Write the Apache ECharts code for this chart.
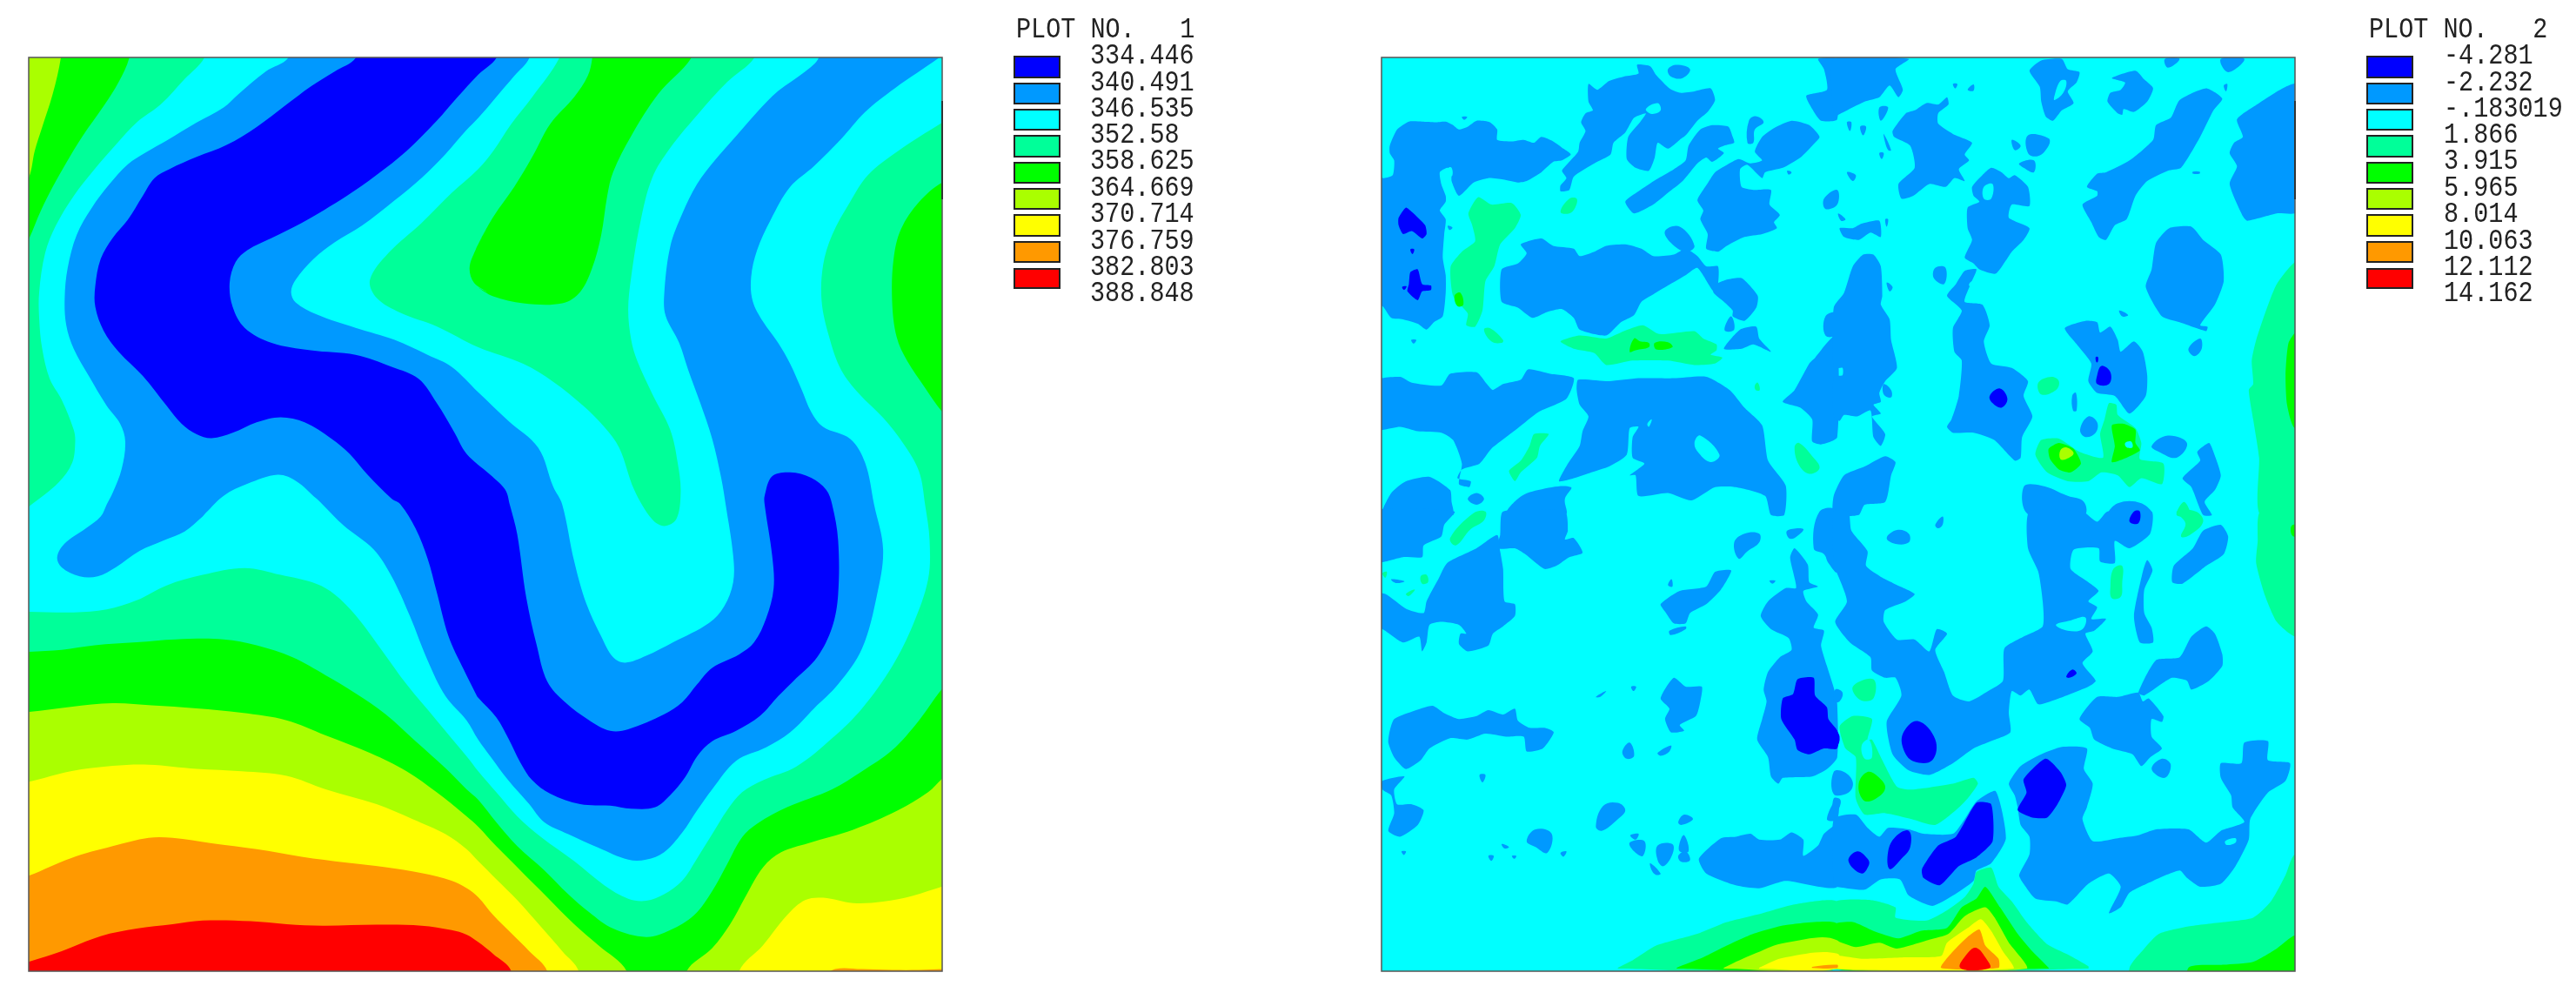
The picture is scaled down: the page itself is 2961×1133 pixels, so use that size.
<!DOCTYPE html>
<html>
<head>
<meta charset="utf-8">
<script src="https://cdn.jsdelivr.net/npm/echarts@6/dist/echarts.min.js"></script>
<style>
  html, body { margin: 0; padding: 0; background: #fff; }
  #chart { width: 2961px; height: 1133px; }
</style>
</head>
<body>
<div id="chart"></div>
<script>
// legend
const colors = ['#0000ff', '#0099ff', '#00ffff', '#00ff99', '#00ff00', '#aaff00', '#ffff00', '#ff9900', '#ff0000'];
const valuesPlot1 = ['334.446', '340.491', '346.535', '352.58', '358.625', '364.669', '370.714', '376.759', '382.803', '388.848'];
const valuesPlot2 = ['-4.281', '-2.232', '-.183019', '1.866', '3.915', '5.965', '8.014', '10.063', '12.112', '14.162'];
const BLUE = 0, AZURE = 1, CYAN = 2, MINT = 3, GREEN = 4, LIME = 5, YELLOW = 6, ORANGE = 7, RED = 8;

// plot 1 contour bands, [col, row, points] pieces
const p1GreenCorner = [[0,0,[[0,0],[375,0],[375,50],[340,130],[290,210],[220,310],[165,400],[120,480],[80,560],[42,650],[0,730]]]];
const p1LimeCorner = [[0,0,[[0,0],[147,0],[147,50],[120,170],[85,280],[60,360],[42,445],[0,520]]]];
const p1GreenTop = [
  [1,0,[[710,0],[710,50],[600,170],[510,310],[450,430],[430,510],[410,640],[380,750],[340,830],[280,868],[150,868],[50,845],[0,815]]],
  [0,0,[[1568,830],[1525,800],[1510,750],[1530,690],[1568,620]]],
  [1,0,[[0,670],[50,580],[120,480],[180,380],[240,270],[320,180],[365,110],[380,50],[380,0]]]
];
const p1GreenRight = [[1,0,[[1700,400],[1547,465],[1470,530],[1410,620],[1385,720],[1380,860],[1395,980],[1430,1060],[1490,1150],[1547,1230],[1700,1400]]]];
const p1CyanBand = [
  [0,0,[[625,0],[625,50],[560,120],[480,205],[400,265],[330,340],[260,420],[190,510],[130,610],[95,700],[75,830],[75,920],[85,1020],[110,1120],[150,1190],[190,1290],[195,1330],[185,1400],[140,1465],[42,1545],[0,1575]]],
  [0,1,[[0,358],[42,358],[190,360],[300,350],[400,320],[500,270],[620,235],[760,212],[880,235],[1000,265],[1060,300],[1130,370],[1220,490],[1300,600],[1400,720],[1500,840]]],
  [1,1,[[0,890],[60,960],[130,1040],[210,1110],[320,1190],[420,1270],[500,1315],[560,1322],[620,1300],[680,1255],[730,1180],[780,1100],[830,1020],[880,960],[950,920],[1060,875],[1180,780],[1280,680],[1380,540],[1450,400],[1500,250],[1505,120]]],
  [1,0,[[1490,1540],[1470,1430],[1420,1340],[1350,1250],[1270,1170],[1210,1090],[1170,980],[1145,860],[1150,740],[1180,640],[1240,530],[1300,440],[1400,360],[1547,265],[1700,170],[1700,0],[920,0],[920,50],[830,130],[730,240],[640,350],[580,450],[540,600],[510,780],[500,890],[510,990],[530,1060],[580,1170],[640,1290],[665,1400],[675,1500]]],
  [1,1,[[660,50],[620,72],[580,50]]],
  [1,0,[[520,1490],[470,1350],[420,1280],[350,1210],[250,1130],[150,1070],[0,1015]]],
  [0,0,[[1400,945],[1280,900],[1200,850],[1178,790],[1240,700],[1350,600],[1450,500]]],
  [1,0,[[0,420],[50,360],[110,270],[180,180],[270,50],[270,0]]]
];
const p1AzureBand = [
  [0,0,[[905,0],[905,50],[830,95],[740,170],[690,215],[600,265],[500,325],[430,365],[370,405],[310,470],[250,550],[200,640],[170,750],[160,850],[165,940],[190,1020],[240,1110],[300,1210],[345,1270],[362,1330],[350,1420],[320,1500]]],
  [0,1,[[300,0],[280,40],[230,80],[160,130],[135,175],[150,210],[210,240],[270,240],[330,210],[410,155],[490,120],[560,90],[620,40]]],
  [0,0,[[630,1568],[690,1510],[770,1470],[870,1440],[930,1460],[1000,1520]]],
  [0,1,[[1020,0],[1090,70],[1190,150],[1250,240],[1310,370],[1370,520],[1430,640],[1500,720]]],
  [1,1,[[0,785],[40,840],[100,920],[170,1000],[220,1060],[300,1100],[400,1145],[500,1185],[560,1185],[620,1160],[680,1095],[730,1020],[780,950],[860,855],[960,810],[1040,760],[1120,680],[1200,600],[1280,480],[1330,300],[1350,150],[1320,0]]],
  [1,0,[[1290,1400],[1240,1320],[1150,1280],[1110,1230],[1080,1160],[1040,1070],[1000,1000],[950,930],[915,860],[910,780],[930,690],[975,590],[1040,480],[1120,410],[1210,320],[1290,230],[1390,150],[1535,50],[1600,0],[1135,0],[1135,50],[1090,95],[1000,160],[930,230],[860,310],[790,390],[730,470],[680,570],[640,680],[620,840],[625,910],[670,1000],[700,1090],[740,1200],[780,1320],[810,1450]]],
  [1,1,[[825,0],[850,170],[850,260],[820,340],[770,395],[650,460],[560,505],[490,528],[450,510],[410,440],[360,330],[320,190],[280,0]]],
  [1,0,[[250,1480],[200,1350],[100,1260],[0,1165]]],
  [0,0,[[1450,1080],[1370,1040],[1260,990],[1130,950],[1000,905],[930,865],[915,830],[930,790],[990,720],[1060,665],[1150,610],[1260,525],[1350,450],[1430,370],[1500,290]]],
  [1,0,[[0,250],[60,180],[120,110],[170,50],[170,0]]]
];
const p1BlueBand = [
  [0,0,[[1130,0],[1130,50],[1060,95],[980,145],[900,205],[800,280],[700,340],[600,380],[510,420],[460,450],[420,510],[370,590],[320,650],[280,720],[262,810],[262,880],[290,960],[340,1030],[420,1110],[500,1210],[550,1270],[600,1305],[650,1318],[720,1300],[800,1265],[880,1248],[960,1265],[1050,1320],[1110,1370],[1170,1440],[1250,1520]]],
  [0,1,[[1280,0],[1330,80],[1370,180],[1400,290],[1440,440],[1490,550],[1530,630]]],
  [1,1,[[0,645],[60,710],[100,780],[140,860],[180,920],[240,965],[340,1000],[440,1005],[510,1015],[590,1010],[640,970],[690,910],[730,840],[780,790],[860,755],[940,705],[1000,640],[1050,590],[1130,510],[1180,410],[1200,300],[1200,120],[1180,0]]],
  [1,0,[[1160,1490],[1110,1450],[1040,1432],[980,1445],[955,1510]]],
  [1,1,[[955,0],[980,170],[985,280],[960,380],[920,460],[870,500],[780,545],[730,600],[680,660],[620,700],[500,750],[440,755],[370,720],[290,660],[230,590],[195,470],[160,310],[130,100],[105,0]]],
  [1,0,[[90,1490],[40,1440]]],
  [0,0,[[1500,1370],[1460,1300],[1400,1200],[1340,1120],[1250,1080],[1130,1040],[980,1025],[850,1000],[760,950],[720,880],[710,800],[730,730],[770,690],[850,650],[950,600],[1100,510],[1200,440],[1300,360],[1400,260],[1470,180]]],
  [1,0,[[0,105],[60,50],[60,0]]]
];
const p1GreenBottom = [
  [0,1,[[0,495],[42,492],[150,485],[260,470],[400,460],[530,450],[690,450],[800,470],[920,510],[1030,570],[1130,630],[1230,700],[1330,790],[1430,880],[1500,950]]],
  [1,1,[[0,985],[60,1060],[130,1140],[220,1220],[300,1300],[370,1360],[450,1415],[560,1443],[640,1420],[720,1370],[780,1290],[830,1200],[880,1110],[930,1065],[1030,1010],[1180,950],[1280,890],[1380,820],[1470,720],[1547,615],[1700,450],[1700,1700],[-1539,1700]]]
];
const p1LimeLeft = [
  [0,1,[[0,695],[42,692],[180,675],[320,663],[450,670],[600,680],[750,695],[900,720],[1030,770],[1180,830],[1300,890],[1400,960],[1500,1040]]],
  [1,1,[[0,1075],[60,1140],[140,1220],[230,1310],[320,1400],[400,1470],[495,1557],[520,1700],[-1539,1700]]]
];
const p1LimeRight = [[1,1,[[670,1700],[695,1557],[780,1480],[840,1400],[890,1310],[950,1210],[1010,1160],[1100,1130],[1250,1085],[1400,1020],[1500,960],[1547,915],[1700,780],[1700,1700]]]];
const p1YellowLeft = [
  [0,1,[[0,930],[42,925],[180,890],[320,872],[440,868],[600,882],[750,890],[900,905],[1030,950],[1200,1000],[1320,1050],[1430,1100],[1500,1150]]],
  [1,1,[[0,1190],[60,1250],[130,1320],[210,1410],[280,1490],[335,1557],[350,1700],[-1539,1700]]]
];
const p1YellowRight = [[1,1,[[850,1700],[870,1557],[950,1470],[1030,1370],[1090,1320],[1150,1312],[1250,1330],[1350,1325],[1450,1305],[1547,1275],[1700,1230],[1700,1700]]]];
const p1OrangeLeft = [
  [0,1,[[0,1250],[42,1238],[180,1180],[320,1140],[440,1112],[520,1112],[650,1130],[800,1150],[950,1175],[1100,1195],[1230,1210],[1350,1230],[1450,1255],[1500,1280]]],
  [1,1,[[0,1310],[50,1370],[110,1430],[170,1490],[230,1557],[245,1700],[-1539,1700]]]
];
const p1OrangeStrip = [[1,1,[[1155,1580],[1190,1550],[1280,1550],[1380,1553],[1470,1553],[1547,1550],[1700,1550],[1700,1700],[1155,1700]]]];
const p1RedLeft = [
  [0,1,[[0,1540],[42,1525],[150,1490],[280,1440],[400,1415],[520,1400],[620,1388],[780,1390],[900,1400],[1020,1405],[1200,1402],[1350,1405],[1450,1420],[1500,1435]]],
  [1,1,[[0,1460],[50,1500],[110,1557],[125,1700],[-1539,1700]]]
];
const plot1Layers = [
  [GREEN, p1GreenCorner], [LIME, p1LimeCorner], [GREEN, p1GreenTop], [GREEN, p1GreenRight],
  [GREEN, p1GreenBottom], [LIME, p1LimeLeft], [LIME, p1LimeRight], [YELLOW, p1YellowLeft], [YELLOW, p1YellowRight],
  [ORANGE, p1OrangeLeft], [ORANGE, p1OrangeStrip], [RED, p1RedLeft],
  [CYAN, p1CyanBand], [AZURE, p1AzureBand], [BLUE, p1BlueBand]
];

// plot 2 regions, one list per tile of the picture
const p2AzureTL = [
  [[55,320],[80,265],[120,238],[165,238],[210,240],[245,238],[270,250],[290,265],[320,255],[350,235],[395,240],[420,265],[420,300],[470,305],[510,300],[545,310],[570,290],[610,305],[645,330],[670,350],[640,370],[610,375],[570,410],[520,440],[490,445],[440,435],[390,430],[340,445],[290,490],[265,440],[265,400],[250,395],[225,410],[230,450],[245,490],[245,510],[225,540],[245,570],[240,620],[235,700],[245,760],[245,820],[235,900],[205,920],[180,945],[150,925],[100,910],[60,905],[30,865],[0,865],[0,425],[35,430],[65,420],[70,370],[55,345]],
  [[730,110],[760,130],[800,100],[850,85],[900,75],[895,45],[940,50],[960,80],[1005,125],[1040,140],[1090,135],[1145,125],[1160,165],[1135,205],[1100,235],[1060,285],[1040,300],[1000,330],[965,310],[955,360],[935,405],[890,395],[860,365],[865,290],[905,240],[925,210],[885,225],[855,275],[815,310],[805,350],[750,380],[680,425],[665,470],[635,475],[635,455],[655,430],[640,405],[660,380],[695,340],[700,310],[720,270],[705,240],[720,210],[745,200],[730,170]],
  [[855,510],[900,475],[960,435],[1020,400],[1060,370],[1070,320],[1110,265],[1150,250],[1205,255],[1220,290],[1225,310],[1190,320],[1170,330],[1190,345],[1150,375],[1130,360],[1100,380],[1050,440],[1000,480],[950,520],[885,550]],
  [[1100,505],[1130,455],[1160,410],[1200,385],[1240,365],[1280,380],[1320,370],[1295,340],[1320,290],[1360,260],[1420,235],[1480,250],[1515,290],[1490,320],[1450,360],[1390,395],[1330,410],[1320,430],[1270,385],[1245,400],[1250,460],[1290,470],[1350,470],[1345,520],[1380,555],[1360,580],[1370,600],[1320,620],[1260,630],[1200,660],[1170,680],[1130,670],[1135,620],[1110,570],[1120,540]],
  [[500,655],[570,635],[610,660],[680,670],[700,695],[750,680],[790,660],[855,655],[910,670],[950,695],[1020,690],[1060,670],[1100,695],[1130,730],[1170,730],[1170,790],[1155,815],[1100,735],[1060,760],[1000,795],[950,825],[910,850],[885,895],[840,920],[790,965],[700,945],[680,905],[640,875],[590,885],[540,905],[490,870],[435,850],[435,740],[490,720],[520,685]],
  [[990,610],[1040,595],[1090,660],[1060,680],[1010,650]],
  [[1155,795],[1200,775],[1250,770],[1305,830],[1300,870],[1260,915],[1220,900],[1220,880],[1190,850],[1155,820]],
  [[1190,1010],[1245,945],[1300,935],[1310,975],[1350,1020],[1290,995],[1250,1010]],
  [[1195,930],[1215,900],[1225,945],[1195,950]],
  [[0,1120],[90,1105],[130,1125],[230,1135],[260,1095],[350,1090],[385,1130],[405,1150],[440,1130],[500,1115],[525,1080],[600,1095],[680,1110],[655,1180],[560,1225],[490,1280],[400,1350],[360,1400],[300,1420],[285,1450],[330,1460],[325,1480],[290,1470],[300,1400],[270,1320],[230,1295],[150,1290],[90,1275],[0,1285]],
  [[695,1115],[800,1120],[900,1110],[1020,1110],[1130,1105],[1210,1150],[1260,1210],[1320,1270],[1340,1390],[1400,1475],[1395,1575],[1350,1575],[1330,1510],[1230,1480],[1160,1480],[1080,1525],[1000,1500],[900,1510],[890,1440],[870,1440],[920,1400],[880,1380],[880,1310],[900,1275],[870,1280],[860,1370],[800,1410],[740,1430],[680,1450],[630,1460],[660,1400],[700,1340],[710,1290],[730,1240],[700,1200],[690,1150]],
  [[30,1575],[60,1500],[110,1460],[190,1445],[260,1490],[265,1530],[270,1575]],
  [[455,1575],[490,1520],[560,1490],[670,1480],[650,1520],[650,1575]],
  [[320,1520],[350,1500],[375,1520],[350,1540]],
  [[1470,150],[1540,130],[1530,60],[1510,25],[1575,25],[1575,230],[1520,235],[1490,195]],
  [[1000,60],[1030,45],[1075,60],[1050,90],[1010,85]],
  [[1390,1190],[1430,1150],[1480,1060],[1500,1040],[1540,990],[1575,960],[1575,1310],[1520,1335],[1490,1325],[1490,1250],[1450,1210]],
  [[1535,900],[1575,890],[1575,960],[1535,965]],
  [[1275,235],[1300,220],[1325,240],[1295,265],[1290,310],[1270,310]],
  [[1530,500],[1575,470],[1575,520],[1535,535]],
  [[125,665],[138,670],[130,688]], [[128,980],[145,980],[136,992]], [[300,222],[318,222],[308,232]], [[252,592],[268,598],[258,606]], [[1405,405],[1420,410],[1410,418]]
];
const p2AzureTR = [
  [[-5,25],[250,25],[205,60],[230,130],[215,155],[185,115],[150,155],[100,170],[0,220],[-5,220]],
  [[195,270],[240,210],[270,200],[310,175],[350,180],[380,155],[385,180],[350,210],[350,245],[400,280],[465,310],[440,350],[455,370],[420,400],[440,440],[405,430],[375,460],[320,450],[265,490],[225,500],[215,450],[270,395],[255,320],[200,290]],
  [[150,190],[180,190],[155,235]], [[40,240],[55,240],[50,270]], [[85,255],[105,255],[95,285]], [[165,280],[190,335],[180,335],[170,310]], [[40,410],[70,420],[60,440]], [[150,345],[165,345],[158,365]],
  [[15,600],[60,600],[90,585],[150,575],[155,630],[120,615],[80,640],[30,630]], [[10,550],[35,570],[20,575]], [[170,570],[180,570],[175,595]],
  [[465,460],[500,420],[530,395],[565,410],[590,430],[610,420],[655,460],[660,525],[600,520],[590,565],[660,600],[640,640],[600,680],[580,710],[545,755],[490,740],[470,720],[440,700],[465,640],[450,600],[450,530],[490,510],[470,490]],
  [[440,745],[480,740],[460,790],[440,850],[500,860],[525,930],[505,985],[530,1060],[600,1075],[655,1120],[640,1170],[670,1240],[635,1310],[630,1380],[610,1390],[540,1320],[470,1295],[400,1295],[380,1275],[395,1250],[420,1170],[430,1050],[405,1020],[400,940],[430,880],[380,830],[410,790]],
  [[340,735],[375,735],[370,790],[335,770]], [[175,785],[195,800],[185,815]],
  [[640,1480],[700,1475],[790,1510],[845,1530],[845,1575],[660,1575]],
  [[60,730],[95,690],[130,690],[155,730],[160,830],[155,860],[185,910],[190,980],[210,1075],[170,1120],[150,1160],[155,1190],[130,1200],[155,1230],[125,1240],[170,1300],[155,1340],[130,1310],[120,1220],[75,1240],[30,1235],[15,1255],[-5,1240],[-5,1105],[25,1100],[25,1075],[-5,1075],[-5,870],[30,820]],
  [[165,1130],[190,1150],[190,1175],[165,1165]],
  [[30,1440],[100,1410],[170,1375],[205,1395],[190,1440],[170,1530],[100,1540],[80,1575],[-5,1575],[-5,1510]],
  [[855,460],[890,415],[920,410],[1000,370],[1080,300],[1090,250],[1140,225],[1170,165],[1260,125],[1315,160],[1285,200],[1240,290],[1175,395],[1130,405],[1060,440],[1020,490],[990,570],[950,590],[920,640],[895,630],[870,580],[840,520],[890,490],[890,475]],
  [[660,65],[700,30],[770,25],[790,60],[830,70],[820,105],[790,135],[810,175],[770,200],[740,235],[715,220],[700,170],[695,120]],
  [[940,90],[1020,65],[1050,95],[1080,125],[1060,170],[1015,205],[980,195],[975,215],[960,210],[925,170],[935,140],[970,130],[985,105]],
  [[1365,230],[1440,175],[1520,125],[1570,110],[1570,545],[1500,550],[1400,575],[1385,560],[1340,450],[1365,390],[1340,345],[1355,310],[1385,290]],
  [[1090,650],[1135,600],[1210,595],[1250,640],[1310,690],[1320,780],[1290,860],[1240,930],[1265,935],[1260,950],[1170,920],[1110,900],[1055,800],[1075,740]],
  [[1200,1010],[1240,975],[1245,1010],[1220,1035]],
  [[780,940],[850,915],[890,920],[900,955],[935,935],[960,980],[970,1020],[1015,985],[1045,1020],[1060,1100],[1055,1170],[1000,1230],[950,1170],[890,1160],[860,1120],[870,1060],[825,1000]],
  [[832,1285],[860,1240],[890,1260],[885,1295],[850,1310]],
  [[1075,1340],[1130,1305],[1195,1330],[1160,1380],[1100,1360]],
  [[1180,1450],[1240,1390],[1230,1360],[1270,1330],[1285,1360],[1310,1440],[1290,1490],[1255,1530],[1280,1575],[1250,1575],[1210,1480]],
  [[930,1575],[960,1535],[1040,1535],[1075,1575]],
  [[1120,25],[1170,25],[1130,55]], [[1310,25],[1390,25],[1335,70]], [[1320,115],[1332,110],[1328,135]],
  [[655,285],[725,295],[725,320],[690,355],[655,345]], [[625,380],[675,370],[675,410],[640,395]], [[600,300],[630,320],[610,335]],
  [[805,1170],[818,1160],[820,1220],[808,1220]], [[965,880],[995,895],[975,900]], [[1215,408],[1238,408],[1238,415],[1215,415]], [[400,110],[415,110],[408,125]], [[450,130],[470,112],[470,133]]
];
const p2AzureBL = [
  [[-5,-5],[275,-5],[240,40],[230,80],[170,110],[165,150],[100,150],[40,165],[-5,170]],
  [[440,-5],[650,-5],[660,60],[650,90],[680,85],[710,135],[665,150],[620,180],[580,190],[515,140],[480,120],[420,120],[430,75]],
  [[250,170],[350,120],[420,75],[430,130],[440,190],[445,300],[480,310],[480,350],[440,385],[405,410],[390,450],[320,470],[290,445],[295,410],[315,410],[290,380],[230,370],[190,380],[180,440],[165,470],[155,420],[100,440],[30,395],[-5,395],[-5,275],[40,275],[110,325],[170,340],[180,300],[220,225]],
  [[1225,100],[1260,70],[1310,70],[1310,100],[1270,130],[1240,155]],
  [[1405,60],[1460,55],[1430,85],[1410,85]],
  [[1495,120],[1515,-5],[1575,-5],[1575,200],[1545,170],[1530,140]],
  [[1315,350],[1340,300],[1400,255],[1435,255],[1425,200],[1415,150],[1430,120],[1475,175],[1480,235],[1510,250],[1460,265],[1470,300],[1510,345],[1495,390],[1530,400],[1520,450],[1540,520],[1565,600],[1575,650],[1575,830],[1540,870],[1490,895],[1390,900],[1375,920],[1350,895],[1340,830],[1303,770],[1320,700],[1335,640],[1325,600],[1340,540],[1380,490],[1420,465],[1410,425],[1350,395]],
  [[1540,1040],[1575,970],[1575,1040]],
  [[1105,1175],[1180,1105],[1230,1100],[1280,1090],[1310,1110],[1380,1110],[1420,1085],[1460,1110],[1460,1165],[1510,1130],[1530,1090],[1575,1060],[1575,1270],[1400,1250],[1310,1275],[1230,1265],[1130,1225]],
  [[55,740],[70,700],[130,675],[200,655],[240,680],[290,700],[350,690],[390,670],[440,685],[480,665],[490,705],[530,730],[580,730],[612,745],[575,800],[520,810],[510,760],[450,760],[380,750],[320,770],[260,765],[190,800],[160,840],[110,870],[70,830],[50,780]],
  [[30,910],[105,895],[70,940],[80,990],[130,990],[170,1010],[150,1060],[90,1100],[50,1080],[70,1020],[60,960],[30,940]],
  [[755,1065],[780,995],[830,985],[855,1010],[830,1040],[775,1080]],
  [[520,1115],[550,1075],[605,1090],[590,1155],[550,1135]],
  [[975,310],[1040,265],[1130,250],[1160,200],[1215,195],[1180,260],[1130,310],[1075,340],[1060,375],[1020,375],[990,335]],
  [[1005,400],[1060,385],[1060,395],[1010,415]],
  [[975,630],[1020,560],[1060,590],[1115,590],[1110,640],[1095,690],[1040,720],[1055,740],[1010,745],[990,700],[1005,665]],
  [[845,810],[870,780],[885,825],[860,835]], [[965,815],[1010,790],[1005,810],[975,825]], [[755,625],[790,605],[770,625]],
  [[870,1120],[920,1115],[915,1165],[885,1150]], [[965,1130],[1015,1125],[1015,1160],[985,1200],[965,1180]], [[1035,1165],[1060,1150],[1075,1180],[1045,1185]], [[1040,1120],[1055,1095],[1070,1150],[1040,1150]],
  [[940,1190],[975,1225],[960,1230],[945,1215]], [[435,1125],[460,1135],[445,1140]], [[390,1165],[408,1165],[400,1182]], [[872,1095],[900,1090],[890,1110]], [[1035,1050],[1055,1025],[1085,1040],[1045,1060]],
  [[1000,245],[1012,225],[1015,250]], [[360,890],[380,890],[370,915]], [[875,590],[892,590],[883,605]], [[95,1150],[110,1150],[103,1162]], [[470,1165],[485,1165],[478,1175]], [[635,1155],[655,1150],[645,1168]], [[1345,230],[1365,230],[1355,240]], [[60,225],[105,232],[75,238]]
];
const p2AzureBR = [
  [[-5,-5],[45,-5],[55,60],[110,130],[105,180],[160,220],[200,240],[270,275],[240,300],[170,330],[165,370],[210,430],[270,430],[320,470],[345,395],[380,410],[340,465],[370,540],[400,620],[455,640],[520,605],[570,570],[575,460],[640,420],[705,385],[705,300],[690,200],[655,120],[660,-5],[840,-5],[890,30],[925,-5],[1075,-5],[1070,70],[1000,120],[950,95],[950,170],[900,165],[895,120],[810,125],[800,190],[860,235],[895,265],[860,300],[890,320],[870,360],[920,360],[880,400],[850,410],[875,470],[840,510],[885,570],[860,590],[760,630],[690,650],[660,600],[630,620],[600,605],[590,680],[595,745],[530,775],[470,800],[400,850],[320,890],[250,875],[195,820],[175,710],[225,620],[205,560],[170,560],[125,535],[120,490],[50,440],[0,370],[40,300],[0,190],[-5,190]],
  [[175,85],[210,58],[250,70],[250,100],[205,105]],
  [[340,40],[365,12],[365,40],[350,52]],
  [[1150,180],[1215,120],[1250,60],[1310,40],[1335,80],[1320,140],[1260,180],[1180,240],[1145,235]],
  [[1015,350],[1045,200],[1060,160],[1078,195],[1050,260],[1050,340],[1075,390],[1080,440],[1035,440]],
  [[1030,610],[1090,500],[1170,490],[1210,420],[1260,385],[1290,410],[1315,480],[1315,520],[1270,570],[1210,600],[1195,570],[1145,560],[1110,580],[1050,620]],
  [[830,700],[890,625],[960,625],[1030,610],[1045,640],[1065,630],[1115,690],[1110,710],[1075,700],[1075,760],[1110,800],[1070,830],[1040,860],[1010,820],[940,800],[880,770],[865,730]],
  [[1075,870],[1110,835],[1140,855],[1120,900]],
  [[590,920],[630,860],[700,820],[770,795],[855,800],[845,870],[875,920],[855,1000],[840,1040],[875,1115],[960,1105],[1030,1095],[1090,1075],[1200,1075],[1260,1120],[1310,1080],[1390,1050],[1350,1000],[1345,960],[1310,900],[1310,850],[1380,850],[1390,780],[1470,775],[1470,840],[1545,850],[1530,910],[1470,950],[1410,1040],[1405,1110],[1360,1200],[1310,1260],[1240,1270],[1195,1240],[1170,1215],[1080,1250],[1000,1290],[970,1340],[930,1360],[970,1270],[930,1225],[860,1260],[790,1330],[750,1320],[680,1310],[640,1260],[625,1230],[660,1160],[660,1100],[630,1060],[620,1000],[610,960]],
  [[-5,1040],[70,1025],[110,1070],[150,1100],[180,1070],[250,1075],[300,1090],[400,1090],[440,1040],[480,980],[545,945],[580,1105],[530,1190],[480,1215],[470,1250],[400,1300],[330,1335],[250,1300],[220,1245],[155,1245],[100,1280],[0,1270],[-5,1270]],
  [[0,600],[25,610],[15,640],[-5,640]],
  [[-5,880],[30,880],[60,915],[45,950],[-5,955]],
  [[-5,970],[18,975],[10,1010],[-5,1020]]
];
const p2BlueTL = [
  [[85,565],[110,530],[130,545],[175,590],[180,620],[165,635],[130,610],[100,620],[85,590]],
  [[120,790],[125,750],[150,740],[165,790],[195,795],[195,810],[165,815],[150,845],[115,815]],
  [[125,672],[138,672],[132,688]], [[97,800],[112,798],[104,810]]
];
const p2BlueTR = [
  [[890,1100],[905,1068],[935,1090],[930,1130],[890,1130]],
  [[885,1038],[893,1038],[892,1055],[887,1055]],
  [[525,1170],[560,1145],[585,1180],[565,1210],[535,1195]]
];
const p2BlueBL = [
  [[1440,565],[1495,560],[1500,620],[1540,660],[1545,700],[1575,740],[1575,800],[1530,800],[1480,820],[1440,805],[1430,770],[1385,700],[1390,630],[1425,615]]
];
const p2BlueBR = [
  [[1000,30],[1015,-5],[1035,-5],[1030,35]],
  [[785,555],[805,532],[820,545],[795,560]],
  [[-5,730],[15,760],[5,800],[-5,800]],
  [[230,750],[280,707],[340,770],[330,840],[270,845],[235,810]],
  [[640,905],[715,835],[765,880],[785,925],[755,990],[720,1035],[670,1035],[620,1010],[650,950]],
  [[295,1210],[350,1130],[410,1100],[480,985],[530,990],[535,1115],[480,1170],[420,1200],[355,1265],[300,1240]],
  [[180,1150],[205,1100],[250,1080],[255,1135],[225,1175],[185,1210]],
  [[45,1182],[75,1150],[110,1175],[115,1195],[90,1225]]
];
const p2MintTL = [
  [[355,495],[400,520],[470,515],[500,555],[480,600],[430,655],[410,730],[380,780],[370,880],[345,935],[315,930],[320,890],[270,830],[262,730],[300,680],[345,645],[335,590],[322,550]],
  [[635,545],[665,500],[690,500],[685,530],[665,550]],
  [[375,945],[395,940],[440,980],[435,990],[400,985]],
  [[635,985],[700,965],[790,975],[850,950],[915,930],[970,960],[1090,950],[1120,975],[1165,995],[1165,1015],[1145,1030],[1185,1040],[1160,1060],[1090,1065],[1000,1050],[880,1050],[790,1065],[750,1025],[680,1010]],
  [[545,1300],[595,1300],[565,1340],[555,1380],[500,1430],[480,1460],[460,1425],[500,1390],[530,1340]],
  [[1430,1345],[1445,1330],[1490,1375],[1515,1415],[1480,1435],[1445,1405]],
  [[1295,1135],[1305,1125],[1312,1150],[1298,1150]]
];
const p2MintTR = [
  [[690,1125],[735,1105],[760,1120],[750,1150],[700,1165]],
  [[930,1195],[955,1200],[960,1235],[1020,1280],[1040,1330],[1035,1385],[1115,1400],[1110,1470],[1040,1450],[1000,1480],[960,1440],[905,1430],[860,1460],[790,1460],[720,1430],[680,1370],[700,1320],[760,1315],[830,1360],[910,1380],[900,1300],[915,1250]],
  [[1570,710],[1500,790],[1460,890],[1430,980],[1415,1050],[1420,1130],[1405,1150],[1420,1250],[1440,1380],[1445,1575],[1700,1575],[1700,710]],
  [[1160,1575],[1185,1530],[1205,1575]]
];
const p2MintBL = [
  [[260,85],[340,0],[380,-5],[375,25],[330,55],[280,110]],
  [[160,215],[180,210],[185,235],[165,240]],
  [[110,275],[140,260],[120,282]],
  [[30,205],[45,200],[40,220]],
  [[830,1545],[880,1520],[960,1470],[1100,1430],[1200,1390],[1320,1360],[1430,1330],[1575,1322],[1575,1548],[830,1548]]
];
const p2MintBR = [
  [[1445,-5],[1435,100],[1430,170],[1460,280],[1500,370],[1562,420],[1700,420],[1700,-5]],
  [[1160,-5],[1225,-5],[1250,30],[1205,75],[1175,80],[1190,35]],
  [[945,190],[975,180],[975,240],[970,285],[940,290],[935,250]],
  [[60,590],[130,565],[130,630],[85,635]],
  [[15,725],[60,690],[125,700],[110,770],[125,770],[160,840],[210,930],[260,940],[400,920],[470,900],[485,920],[450,970],[410,1010],[340,1060],[260,1040],[170,1020],[100,1025],[70,970],[70,830],[35,800]],
  [[-5,1325],[120,1315],[205,1340],[205,1375],[310,1385],[380,1350],[440,1305],[470,1260],[480,1220],[530,1205],[555,1270],[600,1320],[650,1390],[720,1465],[790,1500],[860,1540],[860,1548],[-5,1548]],
  [[1000,1545],[1050,1480],[1100,1430],[1200,1405],[1320,1390],[1420,1375],[1480,1320],[1530,1230],[1562,1160],[1700,1160],[1700,1700],[1000,1700]]
];
const p2GreenTL = [
  [[275,830],[295,820],[305,860],[285,865]],
  [[870,1020],[885,975],[905,985],[935,990],[935,1005],[890,1015]],
  [[955,990],[1000,988],[1015,1005],[960,1012]]
];
const p2GreenTR = [
  [[725,1350],[760,1330],[810,1350],[835,1400],[800,1430],[760,1420],[730,1385]],
  [[940,1270],[980,1265],[1020,1285],[1020,1330],[1035,1355],[990,1380],[940,1395],[950,1340]],
  [[1570,950],[1540,990],[1530,1100],[1535,1200],[1562,1280],[1700,1280],[1700,950]]
];
const p2GreenBL = [[[1030,1545],[1120,1510],[1200,1470],[1290,1430],[1400,1400],[1575,1395],[1575,1548],[1030,1548]]];
const p2GreenBR = [
  [[1555,40],[1700,40],[1700,90],[1558,80]],
  [[80,920],[110,880],[145,895],[170,935],[130,975],[95,975]],
  [[-5,1400],[60,1390],[130,1420],[215,1445],[290,1420],[380,1410],[430,1340],[480,1310],[510,1270],[560,1340],[620,1430],[670,1490],[725,1545],[725,1548],[-5,1548]],
  [[1200,1545],[1320,1535],[1420,1525],[1500,1480],[1562,1435],[1700,1435],[1700,1700],[1200,1700]]
];
const p2LimeTR = [[[765,1355],[785,1345],[810,1365],[785,1385],[765,1385]]];
const p2LimeBL = [[[1190,1545],[1300,1495],[1400,1460],[1575,1452],[1575,1548],[1190,1548]]];
const p2LimeBR = [[[-5,1455],[70,1475],[150,1460],[210,1480],[320,1450],[385,1430],[440,1370],[510,1340],[545,1380],[590,1460],[650,1548],[-5,1548]]];
const p2YellowBL = [[[1310,1545],[1400,1510],[1575,1497],[1575,1548],[1310,1548]]];
const p2YellowBR = [[[-5,1505],[90,1515],[240,1510],[360,1505],[380,1460],[450,1410],[495,1380],[530,1420],[570,1490],[605,1548],[-5,1548]]];
const p2OrangeBL = [[[1490,1542],[1575,1535],[1575,1546],[1490,1546]]];
const p2OrangeBR = [[[360,1546],[400,1490],[450,1440],[490,1415],[510,1470],[555,1515],[555,1546]]];
const p2RedBR = [[[425,1546],[455,1490],[480,1478],[510,1510],[525,1546]]];
const p2CyanHolesTL = [
  [[925,195],[965,175],[975,200],[945,212]],
  [[1090,1330],[1110,1305],[1175,1370],[1145,1395],[1105,1365]],
  [[255,395],[265,395],[268,420],[258,425]],
  [[930,1265],[945,1250],[935,1275]]
];
const p2CyanHolesTR = [
  [[765,100],[785,100],[775,140],[745,165],[745,150]],
  [[490,770],[520,770],[515,850],[470,810],[455,790]],
  [[505,460],[535,450],[530,500],[505,500]],
  [[985,1330],[1005,1325],[1010,1345],[990,1345]]
];
const p2CyanHolesBR = [
  [[750,380],[800,365],[850,355],[840,395],[790,400]],
  [[90,790],[115,770],[125,830],[100,835]],
  [[1325,1115],[1360,1105],[1360,1120],[1330,1128]]
];
const plot2Layers = [
  [MINT, 0, 0, p2MintTL], [MINT, 1, 0, p2MintTR], [MINT, 0, 1, p2MintBL], [MINT, 1, 1, p2MintBR],
  [GREEN, 0, 0, p2GreenTL], [GREEN, 1, 0, p2GreenTR], [GREEN, 0, 1, p2GreenBL], [GREEN, 1, 1, p2GreenBR],
  [LIME, 1, 0, p2LimeTR], [LIME, 0, 1, p2LimeBL], [LIME, 1, 1, p2LimeBR],
  [YELLOW, 0, 1, p2YellowBL], [YELLOW, 1, 1, p2YellowBR],
  [ORANGE, 0, 1, p2OrangeBL], [ORANGE, 1, 1, p2OrangeBR], [RED, 1, 1, p2RedBR],
  [AZURE, 0, 0, p2AzureTL], [AZURE, 1, 0, p2AzureTR], [AZURE, 0, 1, p2AzureBL], [AZURE, 1, 1, p2AzureBR],
  [BLUE, 0, 0, p2BlueTL], [BLUE, 1, 0, p2BlueTR], [BLUE, 0, 1, p2BlueBL], [BLUE, 1, 1, p2BlueBR],
  [CYAN, 0, 0, p2CyanHolesTL], [CYAN, 1, 0, p2CyanHolesTR], [CYAN, 1, 1, p2CyanHolesBR]
];

const TILE1 = 1539, TILE2 = 1568;

// join the pieces of one contour into a single polygon
function joinPieces(pieces) {
  let pts = [];
  pieces.forEach(function (p) {
    p[2].forEach(function (q) { pts.push([q[0] + p[0] * TILE1, q[1] + p[1] * TILE1]); });
  });
  return pts;
}

let shapes1 = plot1Layers.map(function (l) {
  return { color: colors[l[0]], pts: joinPieces(l[1]), smooth: 0.35 };
});
let shapes2 = [];
plot2Layers.forEach(function (l) {
  l[3].forEach(function (poly) {
    shapes2.push({
      color: colors[l[0]],
      pts: poly.map(function (q) { return [q[0] + l[1] * TILE2, q[1] + l[2] * TILE2]; }),
      smooth: poly.length > 6 ? 0.2 : 0.4
    });
  });
});

function drawer(shapes) {
  return function (params, api) {
    let s = shapes[params.dataIndex];
    return {
      type: 'polygon',
      shape: { points: s.pts.map(function (p) { return api.coord(p); }), smooth: s.smooth },
      style: { fill: s.color }
    };
  };
}

// legend blocks are plain graphic elements next to each plot
const FONT = '28.5px "Liberation Mono", monospace';
const swatchTop = [65, 96, 126, 156, 187, 217, 247, 278, 309];
const swatchHeight = [24, 23, 23, 24, 23, 23, 24, 23, 22];
const rowMid = [64, 95, 125, 155, 185, 216, 246, 277, 307, 337];

function legend(swatchX, textX, headX, title, values) {
  let out = [{
    type: 'text', x: headX, y: 34, scaleY: 1.14,
    style: { text: title, font: FONT, fill: '#222', verticalAlign: 'middle' }
  }];
  colors.forEach(function (c, i) {
    out.push({
      type: 'rect',
      shape: { x: swatchX, y: swatchTop[i], width: 52, height: swatchHeight[i] },
      style: { fill: c, stroke: '#222', lineWidth: 2 }
    });
  });
  values.forEach(function (v, i) {
    out.push({
      type: 'text', x: textX, y: rowMid[i], scaleY: 1.14,
      style: { text: v, font: FONT, fill: '#222', verticalAlign: 'middle' }
    });
  });
  return out;
}

function frame(x) {
  return [
    { type: 'rect', z: 100, shape: { x: x, y: 66, width: 1050, height: 1050 }, style: { fill: 'none', stroke: '#555', lineWidth: 1.5 } },
    { type: 'line', z: 100, shape: { x1: x + 1050, y1: 116, x2: x + 1050, y2: 229 }, style: { stroke: '#333', lineWidth: 2 } }
  ];
}

let chart = echarts.init(document.getElementById('chart'), null, { renderer: 'canvas' });
chart.setOption({
  animation: false,
  backgroundColor: '#fff',
  tooltip: { show: false },
  grid: [
    { left: 33, top: 66, width: 1050, height: 1050, show: true, backgroundColor: colors[MINT], borderWidth: 0 },
    { left: 1588, top: 66, width: 1050, height: 1050, show: true, backgroundColor: colors[CYAN], borderWidth: 0 }
  ],
  xAxis: [
    { type: 'value', gridIndex: 0, min: 40, max: 3086, show: false },
    { type: 'value', gridIndex: 1, min: 27, max: 3130, show: false }
  ],
  yAxis: [
    { type: 'value', gridIndex: 0, min: 48, max: 3096, inverse: true, show: false },
    { type: 'value', gridIndex: 1, min: 20, max: 3125, inverse: true, show: false }
  ],
  series: [
    { type: 'custom', coordinateSystem: 'cartesian2d', xAxisIndex: 0, yAxisIndex: 0, clip: true, silent: true,
      renderItem: drawer(shapes1), data: shapes1.map(function (s, i) { return [i]; }) },
    { type: 'custom', coordinateSystem: 'cartesian2d', xAxisIndex: 1, yAxisIndex: 1, clip: true, silent: true,
      renderItem: drawer(shapes2), data: shapes2.map(function (s, i) { return [i]; }) }
  ],
  graphic: [].concat(
    frame(33), frame(1588),
    legend(1166, 1253, 1168, 'PLOT NO.   1', valuesPlot1),
    legend(2721, 2809, 2723, 'PLOT NO.   2', valuesPlot2)
  )
});
</script>
</body>
</html>
